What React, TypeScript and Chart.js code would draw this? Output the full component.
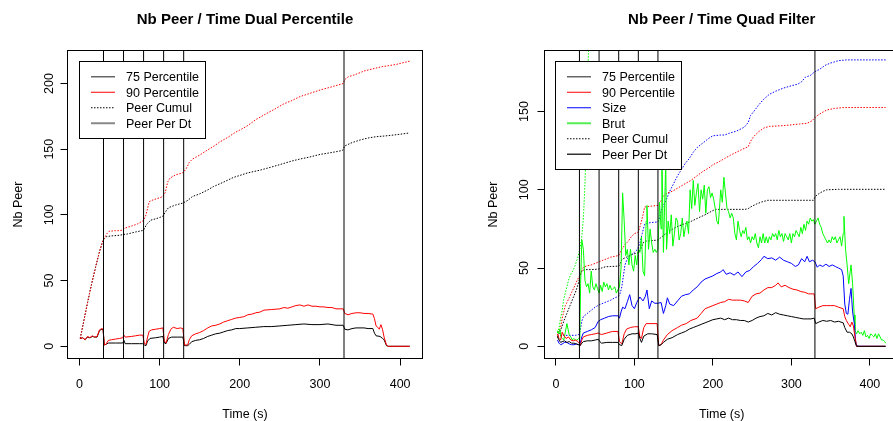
import React, { useEffect, useRef } from "react";
import { Chart, registerables } from "chart.js";
Chart.register(...registerables);

const FONT = "'Liberation Sans', Arial, Helvetica, sans-serif";

// ---------- shared ----------
const X_TICKS = [0, 100, 200, 300, 400];
const VLINES = [30, 55, 80, 105, 130, 330];

// ---------- left panel: Dual Percentile ----------
const L_TITLE = "Nb Peer / Time Dual Percentile";
const L_Y_TICKS = [0, 50, 100, 150, 200];
const L_P90_X = [1, 4, 7, 10, 13, 16, 19, 22, 25, 28, 29.5, 31, 33, 36, 40, 45, 50, 54, 55.5, 57, 65, 70, 75, 79, 81, 83, 85, 87, 90, 95, 100, 104, 106, 108, 111, 114, 117, 122, 126, 129, 131, 135, 137, 140, 145, 150, 155, 160, 165, 170, 175, 180, 185, 190, 195, 200, 205, 210, 215, 220, 225, 230, 240, 250, 255, 260, 265, 270, 275, 280, 285, 290, 295, 300, 305, 310, 315, 320, 325, 329, 331, 335, 340, 345, 350, 355, 360, 366, 368, 370, 372, 374, 376, 378, 380, 383, 385, 412];
const L_P90_Y = [6, 6.5, 5, 7.5, 6.5, 8, 7, 7.5, 12.5, 13.5, 13, 1, 1.5, 4.5, 5, 5.5, 6, 6.5, 8.5, 7, 7.5, 8, 8.5, 8.5, 2, 1.5, 7, 11.5, 12.5, 13, 13.5, 14, 4, 2.5, 9, 13, 14.5, 13.5, 14, 13.5, 1, 1, 5, 8, 9.5, 10.5, 12, 14, 15.5, 16, 17, 18.5, 19.5, 20.5, 21.5, 22, 22.5, 24, 24.5, 25.5, 26, 27.5, 28, 28.5, 29.5, 29, 30, 31, 31.5, 30.5, 31.5, 30.5, 30.5, 30, 30, 29.5, 29.5, 28.5, 28.5, 28.5, 25, 24, 25, 25.5, 25.5, 25, 25, 24.5, 21, 15.5, 14.5, 13, 16.5, 13, 7, 1, 0, 0];
const L_P75_X = [1, 4, 7, 10, 13, 16, 19, 22, 25, 28, 29.5, 31, 33, 36, 45, 54, 55.5, 57, 65, 75, 79, 81, 83, 85, 88, 95, 100, 104, 106, 108, 111, 115, 122, 129, 131, 135, 137, 140, 145, 150, 155, 160, 165, 170, 175, 180, 185, 190, 195, 200, 210, 220, 230, 240, 250, 260, 270, 280, 290, 300, 310, 320, 329, 331, 335, 340, 345, 355, 360, 366, 368, 370, 375, 378, 380, 383, 385, 412];
const L_P75_Y = [6, 6.5, 5, 7, 6.5, 7.5, 7, 7, 12, 13, 12.5, 1, 1.5, 2.5, 2.5, 2.5, 4.5, 2, 2, 2, 2, 1, 0.5, 4, 6, 6.5, 7, 7.5, 2.5, 2, 6, 7, 7, 7, 0.5, 0.5, 1.5, 3.5, 4.5, 5, 6, 7.5, 8.5, 9.5, 10, 11, 12, 12.5, 13.5, 13.5, 14, 14.5, 15, 15, 15.5, 16, 16.5, 17, 16.5, 16.5, 17, 16, 16, 13, 12.5, 13.5, 14, 14, 13.5, 13.5, 10, 8, 7.5, 6, 5, 0.5, 0, 0];
const L_C90_X = [1, 5, 10, 15, 20, 25, 29, 31, 34, 37, 45, 50, 54, 57, 65, 72, 78, 80, 83, 87, 92, 100, 104, 107, 110, 113, 120, 129, 133, 137, 141, 150, 160, 167, 175, 185, 195, 200, 210, 220, 233, 245, 255, 265, 275, 285, 300, 315, 329, 331, 335, 345, 355, 365, 375, 385, 395, 405, 412];
const L_C90_Y = [6, 18, 33, 47, 60, 72, 80, 82, 85.5, 87.5, 88, 88, 88.5, 90, 91.5, 93, 95, 96, 100, 110, 111.5, 113, 114, 117, 125, 128, 130.5, 132, 135, 140, 142.5, 145.5, 149.5, 152, 155.5, 159, 163, 164.5, 168, 172.5, 177, 181, 184.5, 187, 190, 192, 195, 197.5, 200, 203, 205, 207, 209.5, 211, 212.5, 213.5, 214.5, 216, 217];
const L_C75_X = [1, 5, 10, 15, 20, 25, 29, 31, 34, 40, 50, 54, 60, 70, 78, 80, 84, 89, 95, 100, 104, 107, 111, 120, 129, 135, 141, 150, 160, 167, 180, 192, 200, 210, 225, 240, 254, 265, 275, 287, 300, 315, 328, 331, 340, 350, 360, 370, 380, 395, 410];
const L_C75_Y = [6, 18, 33, 47, 60, 72, 80, 82, 83.5, 84, 84.5, 85, 85.5, 87, 88, 88.5, 93, 96, 97, 98, 99, 102, 105.5, 107.5, 109, 111, 114, 116, 119, 121.5, 125, 128.5, 130, 132, 134, 136.5, 139, 141, 142.5, 144, 146, 147.5, 149, 152.5, 155, 157, 158.5, 159.5, 160, 161, 162.2];

// ---------- right panel: Quad Filter ----------
const R_TITLE = "Nb Peer / Time Quad Filter";
const R_Y_TICKS = [0, 50, 100, 150];
const R_P75_X = [2, 4, 6, 8, 11, 14, 17, 20, 23, 26, 29, 31, 33, 35, 40, 45, 50, 54, 56, 58, 65, 72, 79, 81, 84, 87, 91, 97, 102, 105, 107, 109, 112, 117, 122, 129, 131, 134, 137, 142, 148, 155, 160, 165, 170, 175, 180, 185, 190, 195, 200, 205, 210, 215, 220, 225, 230, 235, 240, 245, 250, 255, 260, 265, 270, 275, 280, 285, 290, 295, 300, 305, 310, 315, 320, 325, 329, 331, 335, 340, 345, 350, 355, 360, 366, 368, 371, 374, 377, 379, 381, 383, 420];
const R_P75_Y = [6, 4, 2.5, 3, 3.5, 2.5, 3, 2, 2, 1.5, 1, 0.5, 2, 3, 3.5, 3.5, 4, 4.5, 3, 2, 2.5, 2.5, 2.5, 1, 0.5, 4.5, 7, 8, 8, 8.5, 5, 2.5, 6.5, 8, 8, 7.5, 0.5, 1, 2.5, 4.5, 5.5, 7.5, 8.5, 9.5, 11, 12, 13, 14, 15, 16, 17, 17.5, 18, 17, 18, 17, 17, 16.5, 16.5, 15.5, 16.5, 18, 19, 19.5, 21, 20, 21.5, 20.5, 20, 19.5, 19, 18.5, 18, 17.5, 17.5, 17.5, 18, 14.5, 15.5, 16.5, 16, 16.5, 15.5, 16, 15, 12, 9, 9, 8, 6, 3, 0, 0];
const R_P90_X = [2, 4, 6, 8, 10, 13, 16, 19, 22, 25, 28, 30, 31, 33, 35, 40, 45, 50, 54, 56, 58, 65, 72, 79, 81, 84, 87, 90, 95, 100, 105, 107, 109, 112, 115, 120, 129, 131, 134, 137, 142, 148, 155, 160, 166, 172, 180, 185, 190, 195, 200, 205, 210, 215, 220, 225, 230, 235, 240, 245, 250, 255, 260, 265, 270, 275, 280, 283, 287, 292, 297, 302, 307, 312, 317, 322, 329, 331, 335, 340, 345, 350, 355, 360, 366, 368, 370, 373, 375, 377, 379, 381, 383, 420];
const R_P90_Y = [8, 5, 4, 9, 7, 5, 6, 4, 3.5, 4, 3, 2, 0.5, 4, 6, 7, 7.5, 8, 8.5, 8, 7.5, 8.5, 9.5, 9.5, 3, 1.5, 8, 11, 12, 12.5, 12.5, 6, 5, 12, 14.5, 14.5, 14.5, 0.5, 1, 4, 7.5, 10, 12, 13.5, 14.5, 16.5, 18, 21, 24, 25, 26, 27, 28, 28.5, 30, 29.5, 29.5, 29.5, 29, 28, 32, 33.5, 34, 36, 37.5, 37.5, 39, 40.5, 38, 39, 37.5, 36.5, 36, 35, 34.5, 33.5, 33.5, 24, 25, 26, 26, 26, 26, 25, 24, 19, 16.5, 14, 12.5, 15.5, 13, 6, 0, 0];
const R_SIZE_X = [2, 4, 6, 8, 11, 14, 17, 20, 23, 26, 29, 31, 33, 35, 40, 45, 50, 54, 57, 62, 67, 72, 79, 81, 83, 85, 88, 91, 94, 97, 100, 103, 107, 111, 114, 116, 119, 122, 126, 130, 134, 137, 140, 142, 145, 150, 155, 160, 165, 170, 175, 180, 185, 190, 195, 200, 205, 210, 213, 217, 222, 227, 232, 237, 242, 247, 252, 257, 262, 265, 270, 275, 280, 285, 290, 295, 300, 305, 309, 313, 317, 320, 323, 327, 330, 333, 336, 340, 344, 348, 352, 356, 360, 364, 366, 368, 370, 372, 374, 376, 378, 380, 382, 383, 386, 420];
const R_SIZE_Y = [4, 2, 1, 1.5, 2.5, 2.5, 1.5, 1, 1, 1.5, 1, 2, 6, 8.5, 9.5, 10.5, 12, 16, 17, 18, 19, 19.5, 19.5, 18, 22, 25, 24, 28.5, 33, 26, 24, 28, 31.5, 29, 32, 36, 24, 29, 27.5, 27.5, 28, 21, 26, 31, 27, 26, 29, 32, 33, 33.5, 36, 38, 41, 43, 44, 45, 46.5, 47.5, 49, 46, 47, 45.5, 47.5, 44.5, 47.5, 48.5, 51, 53, 55.5, 57.5, 56, 56.5, 55, 57, 55, 54, 53, 51, 52, 56, 54, 57.5, 54, 55, 54, 50.5, 52, 51, 52.5, 51, 52, 51, 50, 49, 45, 27, 21, 20.5, 30, 37, 22, 15, 3, 0.5, 0, 0];
const R_BRUT_X = [2, 3.5, 5, 6.5, 8, 10, 12, 14, 15.5, 17, 19, 21, 23, 25, 27, 29, 30.5, 31.5, 33, 35, 37, 39, 41, 43, 45, 47, 49, 51, 53, 55, 57, 59, 61, 63, 65, 67, 69, 71, 73, 75, 77, 79, 81, 83, 85, 87, 89, 91, 93, 95, 97, 99, 101, 103, 105, 107, 109, 111, 113, 115, 116, 118, 120, 122, 124, 126, 128, 130, 132, 134, 135, 137, 138, 140, 141, 143, 145, 147, 149, 151, 153, 155, 157, 159, 161, 163, 165, 167, 169, 171, 173, 175, 177, 179, 181, 183, 185, 187, 189, 191, 193, 195, 197, 199, 201, 203, 205, 207, 210, 212, 214, 216, 218, 220, 222, 224, 226, 228, 230, 232, 234, 236, 238, 240, 242, 244, 246, 248, 250, 252, 254, 256, 258, 260, 262, 264, 266, 268, 270, 272, 274, 276, 278, 280, 282, 284, 286, 288, 290, 292, 294, 296, 298, 300, 302, 304, 306, 308, 310, 312, 314, 316, 318, 320, 322, 324, 326, 328, 330, 332, 334, 336, 338, 340, 342, 344, 346, 348, 350, 352, 354, 356, 358, 360, 362, 364, 366, 367, 369, 371, 373, 375, 376, 378, 380, 381, 383, 385, 387, 389, 391, 393, 395, 397, 399, 401, 403, 405, 407, 409, 411, 413, 415, 417, 419, 420];
const R_BRUT_Y = [10, 8, 11, 6, 5, 4, 9, 14.5, 11, 7, 6, 4, 5, 4, 4, 5, 5, 40, 68, 62, 42, 38, 40, 34, 48, 38, 36, 40, 37, 34, 39, 35, 41, 38, 40, 36, 39, 36, 37, 38, 34, 36, 38, 50, 98, 80, 58, 62, 52, 62, 52, 48, 58, 52, 62, 60, 70, 48, 45, 80, 90, 62, 75, 66, 60, 62, 60, 62, 92, 75, 125, 60, 80, 118, 62, 80, 72, 84, 64, 72, 82, 80, 68, 72, 82, 70, 76, 80, 72, 100, 88, 106, 90, 98, 104, 86, 100, 94, 103, 85, 100, 102, 95, 98, 94, 88, 80, 78, 100, 92, 108, 98, 88, 86, 82, 85, 82, 72, 68, 80, 74, 70, 74, 72, 76, 68, 70, 66, 70, 68, 72, 66, 63, 70, 66, 72, 66, 70, 66, 70, 68, 72, 70, 72, 68, 74, 70, 72, 67, 72, 70, 68, 72, 66, 72, 70, 74, 72, 70, 76, 72, 78, 74, 80, 78, 82, 80, 81, 78, 80, 82, 78, 76, 72, 70, 68, 66, 68, 66, 70, 68, 70, 66, 68, 70, 64, 72, 83, 62, 52, 40, 48, 52, 40, 20, 10, 8, 10, 8, 9, 7, 10, 6, 7, 5, 8, 7, 6, 8, 5, 8, 6, 4, 4, 3, 2];
const R_CBRUT_X = [2, 4, 6, 8, 10, 12, 14, 16, 18, 20, 22, 24, 26, 28, 30, 32, 33, 34, 35, 36, 37, 38, 39, 40, 41, 42, 43, 45];
const R_CBRUT_Y = [8.5, 12, 18, 23, 30, 34, 38, 42, 45, 47, 48.5, 51, 54, 57, 61, 66, 70, 76, 82, 92, 104, 118, 134, 155, 178, 200, 230, 280];
const R_C90_X = [2, 4, 6, 8, 10, 12, 14, 17, 20, 23, 26, 29, 31, 33, 35, 40, 45, 50, 55, 60, 65, 70, 75, 80, 82, 84, 88, 92, 96, 100, 105, 108, 111, 113, 120, 130, 133, 137, 142, 148, 155, 165, 172, 180, 188, 195, 200, 208, 215, 222, 230, 238, 245, 248, 252, 258, 265, 272, 283, 290, 300, 310, 320, 326, 332, 338, 345, 355, 365, 380, 420];
const R_C90_Y = [7, 10, 12, 18, 22, 26, 28, 31, 34.5, 37.5, 41, 44, 46, 48, 50.5, 51.5, 52, 53, 54, 55, 56, 57, 57.5, 58, 60, 62, 65, 67, 70, 72, 73, 78, 84, 89, 89.5, 90, 92, 96, 98, 99, 101, 104, 106, 109, 112, 114, 116, 118, 120, 122, 124, 126, 127.5, 131, 134, 137, 139.5, 140.5, 140.8, 141, 141.5, 142, 142.5, 144, 147, 149, 151, 152, 152.5, 152.6, 152.6];
const R_CSIZE_X = [2, 5, 10, 15, 20, 25, 29, 31, 33, 35, 40, 45, 50, 55, 60, 65, 70, 75, 80, 82, 84, 86, 88, 91, 95, 100, 104, 107, 110, 113, 120, 130, 132, 135, 140, 145, 150, 155, 160, 165, 170, 175, 180, 185, 190, 195, 200, 210, 215, 220, 230, 240, 245, 248, 252, 258, 265, 272, 280, 290, 300, 308, 313, 318, 324, 330, 336, 343, 350, 360, 370, 420];
const R_CSIZE_Y = [6, 7, 7, 7, 7, 7, 7.5, 10, 16, 19, 21, 23, 25, 26.5, 27.5, 28.5, 29.5, 31, 32, 34, 38, 45, 52, 56, 58, 60, 62, 66, 72, 78, 79, 79.5, 82, 88, 93, 99, 104, 109, 113, 117, 120, 124, 127, 129, 131, 133, 134.5, 135, 135, 136, 137.5, 140, 143, 147.5, 150, 154, 158, 161, 163, 165, 166.5, 167.5, 169, 172, 173, 175.5, 177, 179.5, 181, 182.5, 183, 183];
const R_C75_X = [2, 6, 10, 14, 18, 22, 26, 29, 31, 33, 36, 45, 54, 58, 63, 70, 80, 82, 84, 90, 97, 105, 108, 111, 114, 130, 135, 140, 148, 156, 165, 173, 182, 190, 195, 203, 228, 241, 245, 250, 256, 262, 270, 300, 328, 331, 335, 340, 345, 360, 420];
const R_C75_Y = [6, 10, 16, 21, 26, 31, 36, 41, 45, 48, 49, 49, 49.3, 50, 50.8, 51, 51.2, 53, 55.5, 57, 58.7, 59.8, 62, 66, 67.2, 67.9, 70, 72, 74.7, 76.8, 78.5, 80, 82.2, 84, 85.4, 87.5, 87.5, 87.5, 88, 89.6, 91, 92.2, 93.3, 93.3, 93.3, 96, 97.5, 99, 100, 100.3, 100.3];

const BLACK = "#000000";
const RED = "#ff0000";
const BLUE = "#0000ff";
const GREEN = "#00ff00";
const DOT = [1.5, 1.5];

type Pt = { x: number; y: number };
const pts = (xs: number[], ys: number[]): Pt[] => xs.map((x, i) => ({ x, y: ys[i] }));

function lineDs(data: Pt[], color: string, dash: number[] = []) {
  return {
    data,
    borderColor: color,
    backgroundColor: color,
    borderWidth: 1,
    borderDash: dash,
    pointRadius: 0,
    fill: false,
    tension: 0,
  };
}
function vlineDs() {
  return VLINES.map((v) => lineDs([{ x: v, y: -1000 }, { x: v, y: 1000 }], BLACK));
}

type LegendItem = { label: string; color: string; dash?: number[]; width?: number };
type PanelCfg = {
  title: string;
  yTicks: number[];
  yLabelX: number;
  yTitleX: number;
  legendX: number;
  legend: LegendItem[];
};

function rPlugin(cfg: PanelCfg) {
  return {
    id: "rstyle",
    afterDraw(chart: any) {
      const ctx = chart.ctx as CanvasRenderingContext2D;
      const a = chart.chartArea;
      const xs = chart.scales.x;
      const ys = chart.scales.y;
      ctx.save();
      // legend
      const n = cfg.legend.length;
      const lx = cfg.legendX;
      const ly = 61.5;
      const lw = 126;
      const rowH = 15.5;
      const lh = n * rowH + 15;
      ctx.setLineDash([]);
      ctx.fillStyle = "#ffffff";
      ctx.fillRect(lx, ly, lw, lh);
      ctx.strokeStyle = BLACK;
      ctx.lineWidth = 1;
      ctx.strokeRect(lx, ly, lw, lh);
      ctx.font = `12.5px ${FONT}`;
      ctx.textAlign = "left";
      ctx.textBaseline = "alphabetic";
      cfg.legend.forEach((it, i) => {
        const cy = ly + 7.5 + rowH / 2 + i * rowH;
        ctx.save();
        ctx.strokeStyle = it.color;
        ctx.lineWidth = it.width ?? 1;
        ctx.setLineDash(it.dash ?? []);
        ctx.beginPath();
        ctx.moveTo(lx + 11.5, cy);
        ctx.lineTo(lx + 35.5, cy);
        ctx.stroke();
        ctx.restore();
        ctx.fillStyle = BLACK;
        ctx.fillText(it.label, lx + 46.5, cy + 4.5);
      });
      // box
      ctx.strokeStyle = BLACK;
      ctx.lineWidth = 1;
      ctx.strokeRect(a.left, a.top, a.right - a.left, a.bottom - a.top);
      // title
      const cx = (a.left + a.right) / 2;
      ctx.fillStyle = BLACK;
      ctx.textAlign = "center";
      ctx.font = `bold 15px ${FONT}`;
      ctx.fillText(cfg.title, cx, 24);
      // x tick labels
      ctx.font = `12.5px ${FONT}`;
      xs.ticks.forEach((t: any) => {
        ctx.fillText(String(t.value), xs.getPixelForValue(t.value), 387.5);
      });
      ctx.fillText("Time (s)", cx, 418);
      // y tick labels (rotated, R style)
      ys.ticks.forEach((t: any) => {
        ctx.save();
        ctx.translate(cfg.yLabelX, ys.getPixelForValue(t.value));
        ctx.rotate(-Math.PI / 2);
        ctx.fillText(String(t.value), 0, 0);
        ctx.restore();
      });
      ctx.save();
      ctx.translate(cfg.yTitleX, (a.top + a.bottom) / 2);
      ctx.rotate(-Math.PI / 2);
      ctx.fillText("Nb Peer", 0, 0);
      ctx.restore();
      ctx.restore();
    },
  };
}

function makeScales(
  xmin: number,
  xmax: number,
  ymin: number,
  ymax: number,
  yTicks: number[],
  yw: number,
  xh: number
) {
  const grid = { display: true, drawOnChartArea: false, drawTicks: true, tickLength: 7, color: BLACK, lineWidth: 1 };
  return {
    x: {
      type: "linear",
      min: xmin,
      max: xmax,
      ticks: { display: false, stepSize: 100, includeBounds: false },
      afterBuildTicks: (s: any) => {
        s.ticks = X_TICKS.map((v) => ({ value: v }));
      },
      afterFit: (s: any) => {
        s.height = xh;
      },
      grid,
      border: { display: false },
    },
    y: {
      type: "linear",
      min: ymin,
      max: ymax,
      ticks: { display: false, stepSize: 50, includeBounds: false },
      afterBuildTicks: (s: any) => {
        s.ticks = yTicks.map((v) => ({ value: v }));
      },
      afterFit: (s: any) => {
        s.width = yw;
      },
      grid,
      border: { display: false },
    },
  };
}

function baseOptions(scales: any, padRight: number) {
  return {
    responsive: false,
    maintainAspectRatio: false,
    animation: false,
    events: [],
    layout: { autoPadding: false, padding: { left: 0, top: 50.5, right: padRight, bottom: 0 } },
    plugins: { legend: { display: false }, tooltip: { enabled: false }, title: { display: false } },
    scales,
  };
}

export default function App() {
  const leftRef = useRef<HTMLCanvasElement>(null);
  const rightRef = useRef<HTMLCanvasElement>(null);

  useEffect(() => {
    const leftCfg: PanelCfg = {
      title: L_TITLE,
      yTicks: L_Y_TICKS,
      yLabelX: 52.5,
      yTitleX: 21.7,
      legendX: 79.5,
      legend: [
        { label: "75 Percentile", color: "#666666", width: 1.5 },
        { label: "90 Percentile", color: RED },
        { label: "Peer Cumul", color: BLACK, dash: DOT },
        { label: "Peer Per Dt", color: "#888888", width: 2 },
      ],
    };
    const left = new Chart(leftRef.current as HTMLCanvasElement, {
      type: "line",
      data: {
        datasets: [
          ...vlineDs(),
          lineDs(pts(L_P90_X, L_P90_Y), RED),
          lineDs(pts(L_P75_X, L_P75_Y), BLACK),
          lineDs(pts(L_C90_X, L_C90_Y), RED, DOT),
          lineDs(pts(L_C75_X, L_C75_Y), BLACK, DOT),
        ] as any,
      },
      options: baseOptions(makeScales(-14.91, 427.9, -9.28, 225.1, L_Y_TICKS, 67.5, 62.5), 23.5) as any,
      plugins: [rPlugin(leftCfg)],
    });

    const rightCfg: PanelCfg = {
      title: R_TITLE,
      yTicks: R_Y_TICKS,
      yLabelX: 527.7 - 446,
      yTitleX: 497.3 - 446,
      legendX: 555.5 - 446,
      legend: [
        { label: "75 Percentile", color: "#666666", width: 1.5 },
        { label: "90 Percentile", color: RED },
        { label: "Size", color: BLUE },
        { label: "Brut", color: "#55ee55", width: 2 },
        { label: "Peer Cumul", color: BLACK, dash: DOT },
        { label: "Peer Per Dt", color: "#333333", width: 1.5 },
      ],
    };
    const right = new Chart(rightRef.current as HTMLCanvasElement, {
      type: "line",
      data: {
        datasets: [
          ...vlineDs(),
          lineDs(pts(R_P75_X, R_P75_Y), BLACK),
          lineDs(pts(R_P90_X, R_P90_Y), RED),
          lineDs(pts(R_SIZE_X, R_SIZE_Y), BLUE),
          lineDs(pts(R_BRUT_X, R_BRUT_Y), GREEN),
          lineDs(pts(R_C75_X, R_C75_Y), BLACK, DOT),
          lineDs(pts(R_C90_X, R_C90_Y), RED, DOT),
          lineDs(pts(R_CSIZE_X, R_CSIZE_Y), BLUE, DOT),
          lineDs(pts(R_CBRUT_X, R_CBRUT_Y), GREEN, DOT),
        ] as any,
      },
      options: baseOptions(makeScales(-14.52, 437.1, -7.79, 189.0, R_Y_TICKS, 98.5, 62.5), 17) as any,
      plugins: [rPlugin(rightCfg)],
    });

    return () => {
      left.destroy();
      right.destroy();
    };
  }, []);

  return (
    <div
      style={{
        position: "absolute",
        left: 0,
        top: 0,
        width: 893,
        height: 421,
        overflow: "hidden",
        background: "#ffffff",
      }}
    >
      <canvas ref={leftRef} width={446} height={421} style={{ position: "absolute", left: 0, top: 0 }} />
      <canvas ref={rightRef} width={470} height={421} style={{ position: "absolute", left: 446, top: 0 }} />
    </div>
  );
}
